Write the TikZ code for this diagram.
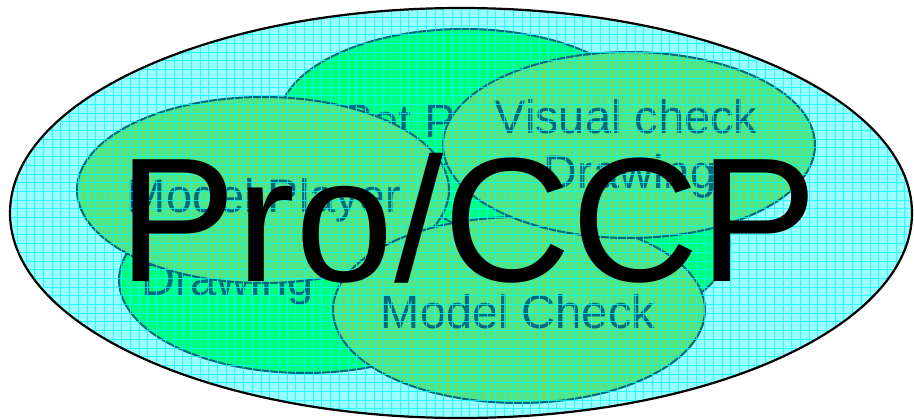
\documentclass[tikz,border=0pt]{standalone}
\usepackage{fontspec}
\setmainfont{Liberation Sans}
\usetikzlibrary{shapes.geometric}

\definecolor{skyfill}{RGB}{153,255,255}
\definecolor{gridcyan}{RGB}{0,255,255}
\definecolor{leaf}{RGB}{85,229,128}
\definecolor{lime}{RGB}{0,255,128}
\definecolor{tealink}{RGB}{0,105,125}

\tikzset{
  bubble/.style={ellipse, draw=tealink, line width=2pt, minimum width=372pt, minimum height=186pt, inner sep=0pt},
  brightbubble/.style={bubble, fill=lime},
  softbubble/.style={bubble, fill=leaf},
  bubbletext/.style={text=tealink, inner sep=0pt, font=\fontsize{47}{55}\selectfont}
}

\begin{document}
\begin{tikzpicture}[x=1pt,y=-1pt]
\useasboundingbox (0,0) rectangle (914,420);

% outer field
\node [ellipse, fill=skyfill, minimum width=902pt, minimum height=410pt, inner sep=0pt] (ccp) at (461,213) {};

% back bubbles
\node [brightbubble] (setp) at (464,122) {};
\node [bubbletext, anchor=base west] (setptext) at (341,138) {Set P};
\node [brightbubble] (back) at (544,243) {};
\node [brightbubble] (drawing) at (305,280) {};
\node [bubbletext, anchor=base west] (drawingtext) at (141,295) {Drawing};

% front bubbles
\node [softbubble] (player) at (263,190) {};
\node [bubbletext, anchor=base] (playertext) at (264,212) {Model Player};
\node [softbubble] (check) at (519,310) {};
\node [bubbletext, anchor=base] (checktext) at (518,328) {Model Check};
\node [softbubble] (visual) at (629,145) {};
\node [bubbletext, anchor=base] (visualtext) at (626,133) {Visual check};
\node [bubbletext, anchor=base] (visualtext2) at (630,188) {Drawing};

% grid over the field
\begin{scope}
\clip (461,213) ellipse [x radius=451pt, y radius=205pt];
\draw [gridcyan, line width=0.9pt, opacity=0.75, step=8.7pt] (0,420) grid (914,0);
\end{scope}
\draw [black, line width=2.2pt] (461,213) ellipse [x radius=451pt, y radius=205pt];

% title
\node [inner sep=0pt, anchor=base, font=\fontsize{177}{180}\selectfont] (title) at (468,281) {Pro/CCP};
\end{tikzpicture}
\end{document}
